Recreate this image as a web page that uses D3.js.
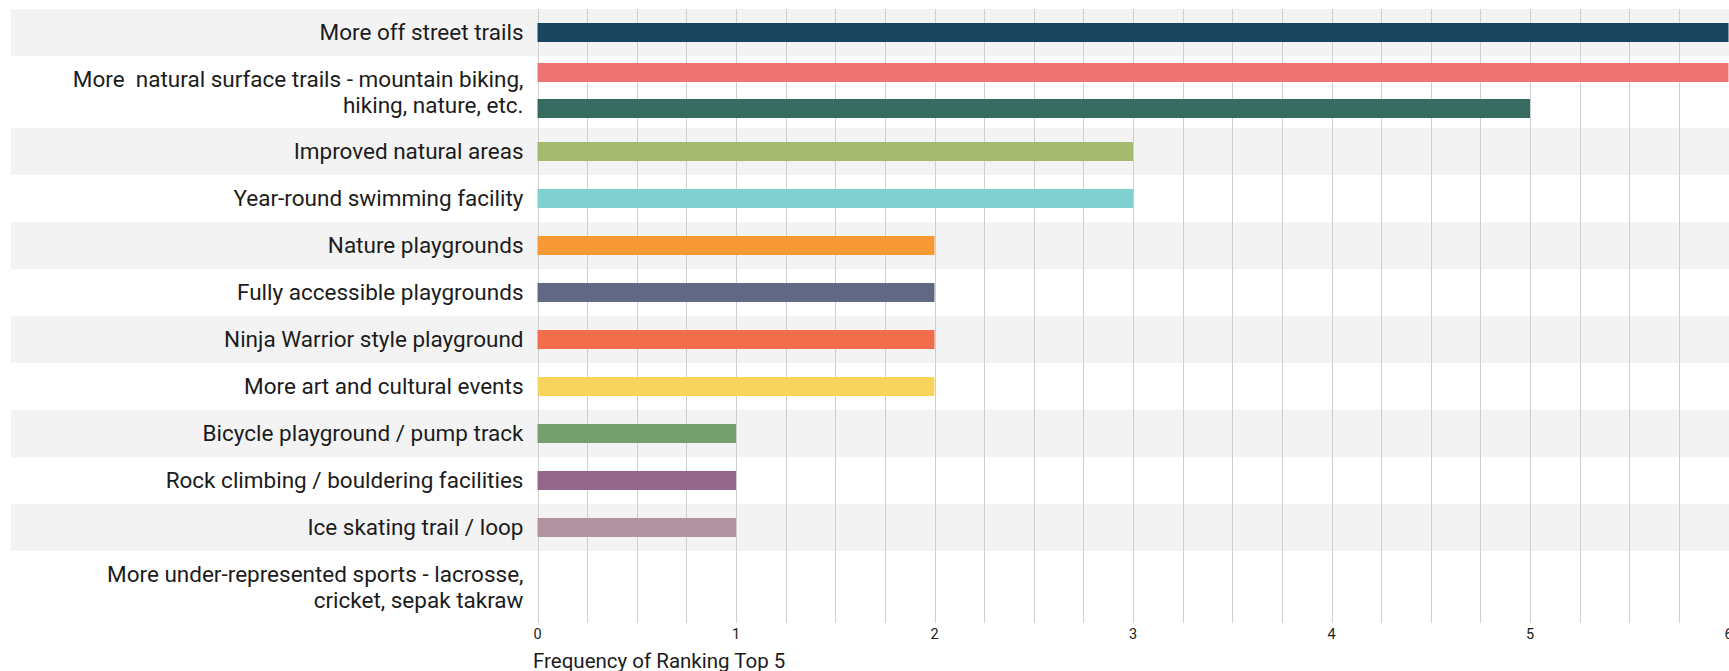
<!DOCTYPE html>
<html>
<head>
<meta charset="utf-8">
<script src="https://cdn.jsdelivr.net/npm/d3@7"></script>
<style>
  body { margin: 0; background: #fff; overflow: hidden; }
  svg text { font-family: Roboto, "Noto Sans", sans-serif; fill: #1c1c1c; }
</style>
</head>
<body>
<svg id="chart"></svg>
<script>
// row labels, one entry per line of text
var categories = [
  ["More off street trails"],
  ["More  natural surface trails - mountain biking,", "hiking, nature, etc."],
  ["Improved natural areas"],
  ["Year-round swimming facility"],
  ["Nature playgrounds"],
  ["Fully accessible playgrounds"],
  ["Ninja Warrior style playground"],
  ["More art and cultural events"],
  ["Bicycle playground / pump track"],
  ["Rock climbing / bouldering facilities"],
  ["Ice skating trail / loop"],
  ["More under-represented sports - lacrosse,", "cricket, sepak takraw"]
];

// which row each bar sits in, and its value
var barRow    = [0, 1, 1, 2, 3, 4, 5, 6, 7, 8, 9, 10];
var barValues = [6, 6, 5, 3, 3, 2, 2, 2, 2, 1, 1, 1];
var tickValues = [0, 1, 2, 3, 4, 5, 6];

var palette = ["#19455f", "#ee7571", "#366b60", "#a6ba6f", "#80d0cf", "#f79a35",
               "#606883", "#f26d4b", "#f7d55c", "#759f6d", "#936789", "#b293a0"];

var width = 1729, height = 671;
var marginTop = 9, left = 537.5, right = 1728.5;
var rowH = 47, lineStep = 25, lineGap = 26.5;

var svg = d3.select("#chart").attr("width", width).attr("height", height);

// row geometry from number of label lines
var heights = categories.map(function(c){ return rowH + lineStep * (c.length - 1); });
var starts = [marginTop];
for (var i = 0; i < heights.length - 1; i++) starts.push(starts[i] + heights[i]);
var bottom = starts[starts.length - 1] + heights[heights.length - 1];

var x = d3.scaleLinear().domain([0, 6]).range([left, right]);

// striped backgrounds
svg.append("g").selectAll("rect")
  .data(categories)
  .enter()
  .append("rect")
  .attr("x", 11)
  .attr("y", function(d,i){ return starts[i]; })
  .attr("width", width - 11)
  .attr("height", function(d,i){ return heights[i]; })
  .attr("fill", function(d,i){ return i % 2 == 0 ? "#f3f3f3" : "#ffffff"; });

// grid lines every quarter unit
svg.append("g").selectAll("line")
  .data(d3.range(0, 6.01, 0.25))
  .enter()
  .append("line")
  .attr("x1", function(d){ return Math.round(x(d)) + 0.5; })
  .attr("x2", function(d){ return Math.round(x(d)) + 0.5; })
  .attr("y1", marginTop)
  .attr("y2", bottom)
  .attr("stroke", "#cfcfcf")
  .attr("stroke-width", 1);

// bars, placed inside their row
var barH = 19;
svg.append("g").selectAll("rect")
  .data(barValues)
  .enter()
  .append("rect")
  .attr("x", x(0))
  .attr("y", function(d,i){
      var r = barRow[i];
      var inRow = barRow.map(function(v,j){ return j; }).filter(function(j){ return barRow[j] == r; });
      var p = d3.scalePoint().domain(inRow).range([0, heights[r]]).padding(0.5);
      if (inRow.length == 1) return starts[r] + heights[r] / 2 - barH / 2;
      return starts[r] + p(i) - barH / 2 - 1.5;
  })
  .attr("width", function(d){ return Math.min(x(d), width) - x(0); })
  .attr("height", barH)
  .attr("fill", function(d,i){ return palette[i]; });

// category labels
var labels = svg.append("g").selectAll("text")
  .data(categories)
  .enter()
  .append("text")
  .attr("text-anchor", "end")
  .style("font-size", "22.5px")
  .style("white-space", "pre")
  .attr("x", 523.5)
  .attr("y", function(d,i){ return starts[i] + heights[i] / 2 - (d.length - 1) * lineGap / 2; });

labels.selectAll("tspan")
  .data(function(d){ return d; })
  .enter()
  .append("tspan")
  .attr("x", 523.5)
  .attr("dy", function(d,i){ return i == 0 ? "0.35em" : lineGap; })
  .text(function(d){ return d; });

// bottom axis labels
svg.append("g").selectAll("text")
  .data(tickValues)
  .enter()
  .append("text")
  .attr("x", function(d){ return x(d); })
  .attr("y", 639)
  .attr("text-anchor", "middle")
  .style("font-size", "14.5px")
  .text(function(d){ return d; });

svg.append("text")
  .attr("x", 533)
  .attr("y", 668)
  .style("font-size", "20.5px")
  .text("Frequency of Ranking Top 5");
</script>
</body>
</html>
